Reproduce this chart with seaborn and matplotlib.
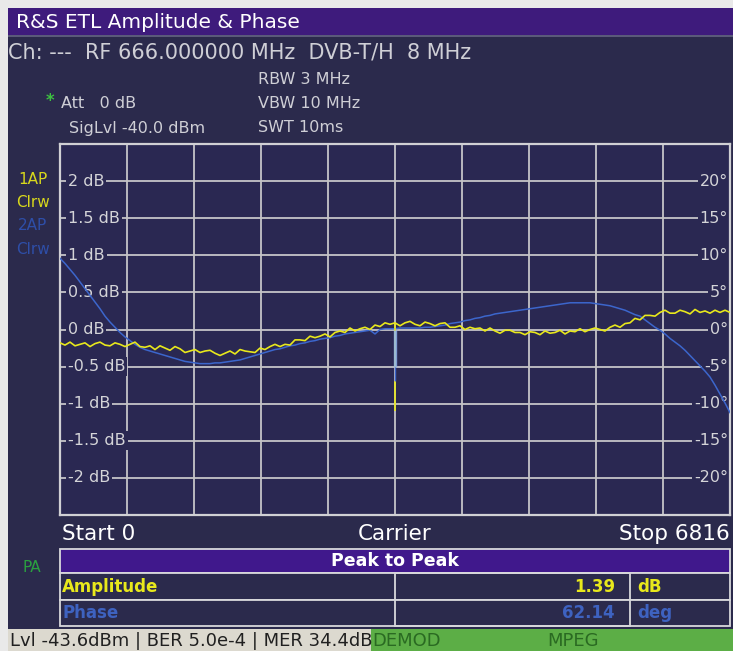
import numpy as np
import pandas as pd
import matplotlib
matplotlib.use("Agg")
import matplotlib.pyplot as plt
import seaborn as sns
from matplotlib.patches import Rectangle
from matplotlib.transforms import blended_transform_factory

# ---------------- data ----------------
n_carriers = 6816
amp_db = [
    -0.18, -0.21, -0.17, -0.22, -0.20, -0.18, -0.23, -0.19, -0.17, -0.21,
    -0.22, -0.18, -0.20, -0.23, -0.20, -0.17, -0.23, -0.24, -0.22, -0.27,
    -0.22, -0.25, -0.28, -0.23, -0.26, -0.31, -0.29, -0.27, -0.31, -0.29,
    -0.28, -0.32, -0.35, -0.32, -0.29, -0.33, -0.27, -0.29, -0.30, -0.31,
    -0.25, -0.27, -0.23, -0.20, -0.23, -0.20, -0.21, -0.14, -0.14, -0.15,
    -0.09, -0.11, -0.09, -0.06, -0.10, -0.04, -0.02, -0.04, 0.02, -0.02,
    0.01, 0.03, 0.00, 0.06, 0.04, 0.09, 0.07, 0.09, 0.05, 0.09,
    0.11, 0.07, 0.05, 0.10, 0.08, 0.05, 0.08, 0.09, 0.03, 0.03,
    0.05, 0.00, 0.03, 0.01, 0.02, -0.02, 0.02, -0.02, -0.05, -0.01,
    -0.01, -0.04, -0.04, -0.07, -0.03, -0.04, -0.07, -0.02, -0.05, -0.04,
    -0.01, -0.06, -0.02, -0.03, 0.01, -0.03, 0.00, 0.02, 0.00, -0.02,
    0.03, 0.06, 0.03, 0.08, 0.09, 0.15, 0.13, 0.19, 0.19, 0.18,
    0.23, 0.26, 0.22, 0.22, 0.26, 0.24, 0.21, 0.27, 0.23, 0.25,
    0.22, 0.26, 0.23, 0.26, 0.23,
]
phase_deg = [
    9.6, 8.9, 8.1, 7.3, 6.4, 5.5, 4.6, 3.7, 2.8, 1.8,
    1.0, 0.3, -0.4, -1.0, -1.5, -2.0, -2.4, -2.7, -2.9, -3.1,
    -3.3, -3.5, -3.7, -3.9, -4.1, -4.3, -4.4, -4.5, -4.6, -4.6,
    -4.6, -4.5, -4.5, -4.4, -4.3, -4.2, -4.1, -3.9, -3.7, -3.5,
    -3.3, -3.1, -2.9, -2.7, -2.6, -2.4, -2.2, -2.1, -1.9, -1.8,
    -1.6, -1.5, -1.3, -1.2, -1.1, -0.9, -0.8, -0.6, -0.5, -0.4,
    -0.3, -0.2, -0.1, -0.6, 0.0, 0.1, 0.1, 0.1, 0.2, 0.2,
    0.2, 0.2, 0.2, 0.3, 0.3, 0.4, 0.5, 0.6, 0.8, 0.9,
    1.0, 1.2, 1.3, 1.5, 1.6, 1.8, 1.9, 2.1, 2.2, 2.3,
    2.4, 2.5, 2.6, 2.7, 2.8, 2.9, 3.0, 3.1, 3.2, 3.3,
    3.4, 3.5, 3.6, 3.6, 3.6, 3.6, 3.6, 3.5, 3.4, 3.3,
    3.2, 3.0, 2.8, 2.6, 2.3, 2.0, 1.8, 1.3, 0.8, 0.3,
    -0.1, -0.6, -1.2, -1.7, -2.2, -2.8, -3.5, -4.2, -4.9, -5.6,
    -6.4, -7.5, -8.7, -9.9, -11.2,
]
carriers = np.linspace(0, n_carriers, len(amp_db))
spike_carrier = 3408
amp_spike_top = [0.07, -0.70]
amp_spike_bottom = [-0.50, -1.10]
phase_spike_top = [0.0]
phase_spike_bottom = [-5.0]
phase_tail_top = [-5.0]
phase_tail_bottom = [-7.0]

amp_ticks = [2, 1.5, 1, 0.5, 0, -0.5, -1, -1.5, -2]
amp_tick_labels = ["2 dB", "1.5 dB", "1 dB", "0.5 dB", "0 dB",
                   "-0.5 dB", "-1 dB", "-1.5 dB", "-2 dB"]
phase_ticks = [20, 15, 10, 5, 0, -5, -10, -15, -20]
phase_tick_labels = ["20°", "15°", "10°", "5°", "0°",
                     "-5°", "-10°", "-15°", "-20°"]

title = "R&S ETL Amplitude & Phase"
channel_line = "Ch: ---  RF 666.000000 MHz  DVB-T/H  8 MHz"
settings_left = ["Att   0 dB", "SigLvl -40.0 dBm"]
settings_right = ["RBW 3 MHz", "VBW 10 MHz", "SWT 10ms"]
trace_labels = ["1AP", "Clrw", "2AP", "Clrw"]
x_labels = ["Start 0", "Carrier", "Stop 6816"]
table_header = "Peak to Peak"
table_rows = ["Amplitude", "Phase"]
table_values = [1.39, 62.14]
table_units = ["dB", "deg"]
status_left = "Lvl -43.6dBm | BER 5.0e-4 | MER 34.4dB"
status_right = ["DEMOD", "MPEG"]

# ---------------- style ----------------
W, H = 733, 651
BG = "#2b2a4c"
PLOT_BG = "#2a2852"
GRID = "#c4c4c8"
TXT = "#d4d4d8"
YEL = "#e8e81c"
BLU = "#3c66cc"
PURPLE = "#3e1b7c"
HEAD = "#40188c"

fig = plt.figure(figsize=(W / 100, H / 100), dpi=100, facecolor="#e9e9e9")


def frect(x0, y0, x1, y1, **kw):
    r = Rectangle((x0 / W, 1 - y1 / H), (x1 - x0) / W, (y1 - y0) / H,
                  transform=fig.transFigure, **kw)
    fig.patches.append(r)
    return r


def ftxt(x, y, s, **kw):
    kw.setdefault("va", "center")
    kw.setdefault("color", TXT)
    kw.setdefault("family", "DejaVu Sans")
    return fig.text(x / W, 1 - y / H, s, **kw)


# panels
frect(8, 8, 733, 629, facecolor=BG, edgecolor="none", zorder=-5)
frect(8, 8, 733, 35, facecolor=PURPLE, edgecolor="none", zorder=-4)
frect(8, 35, 733, 36.5, facecolor="#5a5a7a", edgecolor="none", zorder=-4)
frect(8, 629, 371, 651, facecolor="#dcd9cf", edgecolor="none", zorder=-4)
frect(371, 629, 733, 651, facecolor="#5cae46", edgecolor="none", zorder=-4)

# header texts
ftxt(16, 22, title, color="white", fontsize=14.5)
ftxt(8, 52, channel_line, fontsize=15, color="#cfcfd6")
ftxt(258, 80, settings_right[0], fontsize=11.5, color="#cfcfd6")
ftxt(258, 104, settings_right[1], fontsize=11.5, color="#cfcfd6")
ftxt(258, 128, settings_right[2], fontsize=11.5, color="#cfcfd6")
ftxt(46, 101, "*", fontsize=12, color="#3cc040", fontweight="bold")
ftxt(61, 104, settings_left[0], fontsize=11.5, color="#cfcfd6")
ftxt(69, 128, settings_left[1], fontsize=11.5, color="#cfcfd6")

# trace labels left
ftxt(18, 180, trace_labels[0], fontsize=11, color="#d8d81c")
ftxt(16, 203, trace_labels[1], fontsize=11, color="#d8d81c")
ftxt(18, 226, trace_labels[2], fontsize=11, color="#2e4ea8")
ftxt(16, 249, trace_labels[3], fontsize=11, color="#2e4ea8")
ftxt(22, 568, "PA", fontsize=11, color="#2aa040")

# ---------------- plot ----------------
rect = [60 / W, 1 - 515 / H, 670 / W, 371 / H]
ax_ph = fig.add_axes(rect, zorder=1)
ax_amp = fig.add_axes(rect, zorder=2)
ax_amp.patch.set_visible(False)
ax_ph.set_facecolor(PLOT_BG)

for a in (ax_ph, ax_amp):
    a.set_xlim(0, n_carriers)
    a.tick_params(left=False, right=False, bottom=False, top=False,
                  labelleft=False, labelbottom=False)
    for sp in a.spines.values():
        sp.set_visible(False)
for sp in ax_ph.spines.values():
    sp.set_visible(True)
    sp.set_color("#d0d0d4")
    sp.set_linewidth(1.6)

ax_ph.set_xticks(np.linspace(0, n_carriers, 11))
ax_ph.set_yticks(phase_ticks)
ax_ph.set_axisbelow(True)
ax_ph.grid(True, color=GRID, linewidth=1.3)

df = pd.DataFrame({"carrier": carriers, "amp": amp_db, "phase": phase_deg})
sns.lineplot(data=df, x="carrier", y="phase", ax=ax_ph, color=BLU,
             linewidth=1.1, estimator=None, zorder=3)
sns.lineplot(data=df, x="carrier", y="amp", ax=ax_amp, color=YEL,
             linewidth=1.2, estimator=None, zorder=3)
for a in (ax_ph, ax_amp):
    a.set_xlabel("")
    a.set_ylabel("")
    a.set_xlim(0, n_carriers)
ax_amp.set_ylim(-2.5, 2.5)
ax_ph.set_ylim(-25, 25)

# tick labels inside plot
bb = dict(boxstyle="square,pad=0.12", facecolor=PLOT_BG, edgecolor="none")
tr = blended_transform_factory(ax_ph.transAxes, ax_ph.transData)
for v, s in zip(amp_ticks, amp_tick_labels):
    ax_ph.text(0.012, v * 10, s, transform=tr, ha="left", va="center",
               fontsize=11.5, color=TXT, bbox=bb, zorder=2)
for v, s in zip(phase_ticks, phase_tick_labels):
    ax_ph.text(0.997, v, s, transform=tr, ha="right", va="center",
               fontsize=11.5, color=TXT, bbox=bb, zorder=2)

# carrier spike
ax_amp.vlines([spike_carrier] * len(amp_spike_top), amp_spike_bottom, amp_spike_top,
              color=YEL, linewidth=1.2, zorder=4)
ax_amp.vlines([spike_carrier], phase_spike_bottom, phase_spike_top,
              color="#90b4ec", linewidth=2.4, alpha=0.85, zorder=5,
              transform=ax_ph.transData)
ax_amp.vlines([spike_carrier], phase_tail_bottom, phase_tail_top,
              color=BLU, linewidth=1.0, zorder=5, transform=ax_ph.transData)

# x labels
ftxt(62, 534, x_labels[0], fontsize=15.5, color="white")
ftxt(395, 534, x_labels[1], fontsize=15.5, color="white", ha="center")
ftxt(730, 534, x_labels[2], fontsize=15.5, color="white", ha="right")

# ---------------- table ----------------
EDGE = "#d8d8dc"
frect(60, 549, 730, 573, facecolor=HEAD, edgecolor=EDGE, linewidth=1.3, zorder=1)
frect(60, 573, 730, 600, facecolor=BG, edgecolor=EDGE, linewidth=1.3, zorder=1)
frect(60, 600, 730, 626, facecolor=BG, edgecolor=EDGE, linewidth=1.3, zorder=1)
frect(395, 573, 630, 626, facecolor="none", edgecolor=EDGE, linewidth=1.3, zorder=1.1)
ftxt(395, 561, table_header, fontsize=12.5, color="white", ha="center", fontweight="bold")
row_colors = ["#e8e81c", "#3e62c0"]
for i, (name, val, unit) in enumerate(zip(table_rows, table_values, table_units)):
    y = 587 + i * 26
    ftxt(62, y, name, fontsize=12, color=row_colors[i], fontweight="bold")
    ftxt(615, y, f"{val:.2f}", fontsize=12, color=row_colors[i], ha="right", fontweight="bold")
    ftxt(637, y, unit, fontsize=12, color=row_colors[i], fontweight="bold")

# status bar
ftxt(10, 641, status_left, fontsize=13, color="#202020")
ftxt(372, 641, status_right[0], fontsize=13, color="#2a6a22")
ftxt(547, 641, status_right[1], fontsize=13, color="#2a6a22")

fig.savefig("out.png", dpi=100, facecolor=fig.get_facecolor())
